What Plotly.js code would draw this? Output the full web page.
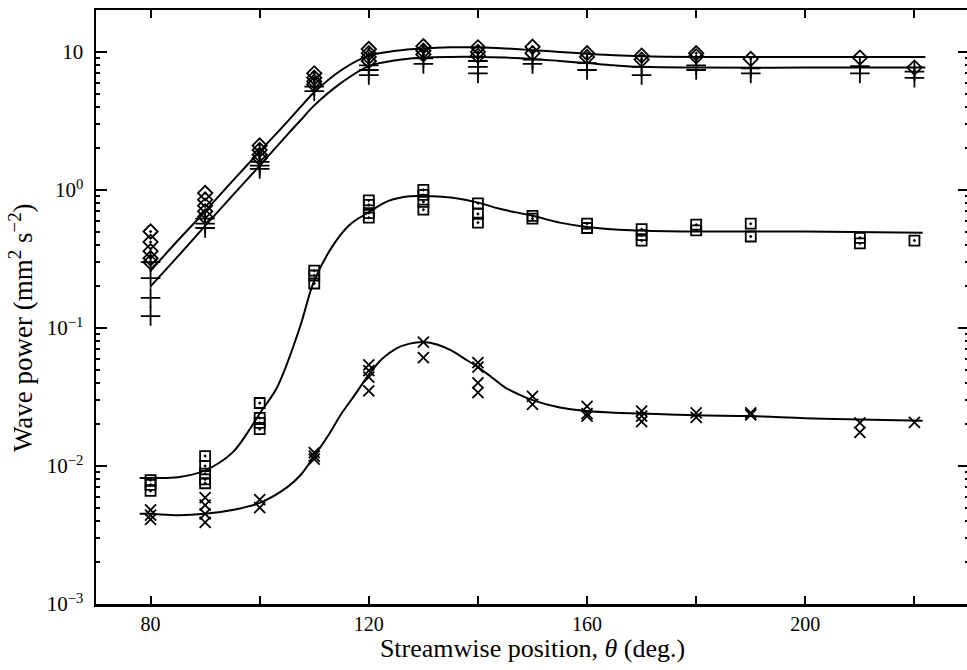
<!DOCTYPE html>
<html><head><meta charset="utf-8">
<script src="https://cdn.plot.ly/plotly-3.0.1.min.js"></script>
<style>html,body{margin:0;padding:0;overflow:hidden;background:#fff}</style>
</head><body><div id="chart" style="width:972px;height:670px"></div>
<script>
// ---- data ----
const diamondTheta = [80,80,80,80,80, 90,90,90,90,90, 100,100,100,100, 110,110,110,110, 120,120,120,120, 130,130,130, 140,140,140, 150,150, 160,160, 170,170, 180,180, 190, 210, 220];
const diamondPower = [0.50,0.42,0.36,0.32,0.30, 0.95,0.85,0.77,0.70,0.64, 2.1,1.95,1.8,1.7, 7.0,6.5,6.1,5.8, 10.5,9.8,9.2,8.6, 11.0,10.2,9.6, 10.8,10.0,9.4, 10.9,9.8, 9.8,9.2, 9.4,8.8, 9.8,9.3, 8.9, 9.1, 7.7];

const plusTheta = [80,80,80,80, 90,90,90, 100,100,100, 110,110, 120,120,120, 130,130, 140,140,140, 150,150, 160,160, 170,170, 180,180, 190,190, 210,210, 220,220];
const plusPower = [0.30,0.23,0.165,0.122, 0.62,0.57,0.53, 1.6,1.5,1.42, 5.6,5.2, 8.0,7.4,6.8, 9.0,8.2, 8.6,7.8,7.0, 8.8,8.2, 8.3,7.4, 7.8,6.8, 8.0,7.4, 7.6,7.0, 7.9,7.0, 7.2,6.5];

const squareTheta = [80,80,80, 90,90,90,90,90, 100,100,100,100, 110,110,110, 120,120,120,120, 130,130,130,130, 140,140,140, 150,150, 160,160, 170,170,170, 180,180, 190,190, 210,210, 220];
const squarePower = [0.0079,0.0073,0.0066, 0.0118,0.0100,0.0088,0.0080,0.0075, 0.0286,0.0223,0.0205,0.0185, 0.26,0.24,0.21, 0.84,0.78,0.68,0.63, 1.0,0.92,0.82,0.72, 0.80,0.67,0.58, 0.65,0.62, 0.57,0.53, 0.52,0.47,0.43, 0.56,0.51, 0.57,0.46, 0.45,0.41, 0.43];

const crossTheta = [80,80,80, 90,90,90,90, 100,100, 110,110,110, 120,120,120,120, 130,130, 140,140,140,140, 150,150, 160,160,160, 170,170,170, 180,180, 190,190, 210,210, 220];
const crossPower = [0.0048,0.0044,0.0041, 0.0059,0.0052,0.0045,0.0039, 0.0057,0.0050, 0.0125,0.0118,0.0112, 0.054,0.049,0.044,0.035, 0.079,0.061, 0.056,0.052,0.040,0.034, 0.032,0.028, 0.027,0.024,0.023, 0.025,0.023,0.021, 0.0243,0.0225, 0.0243,0.0235, 0.0205,0.0175, 0.0207];

// fitted curves
const upperFitTheta = [80,85,90,95,100,105,107.5,110,115,120,125,130,135,140,145,150,155,160,165,170,180,200,222];
const upperFitPower = [0.26,0.43,0.70,1.16,1.9,3.1,4.0,5.1,7.4,9.4,10.2,10.6,10.8,10.8,10.6,10.3,10.0,9.7,9.45,9.3,9.2,9.2,9.2];
const lowerFitTheta = [80,85,90,95,100,105,107.5,110,115,120,125,130,135,140,145,150,155,160,165,170,180,200,222];
const lowerFitPower = [0.20,0.33,0.55,0.91,1.5,2.5,3.2,4.1,6.0,7.9,8.7,9.1,9.2,9.2,9.1,8.9,8.6,8.3,8.0,7.8,7.7,7.7,7.7];
const squareFitTheta = [78,80,85,90,95,98,100,103,105,107.5,110,113.5,116.5,120,123.5,127.5,131.5,136,140,144,150,155,160,168,180,200,221.5];
const squareFitPower = [0.0082,0.0082,0.0083,0.0093,0.0125,0.018,0.024,0.036,0.055,0.105,0.22,0.40,0.56,0.69,0.83,0.90,0.90,0.87,0.81,0.73,0.65,0.58,0.54,0.51,0.50,0.50,0.49];
const crossFitTheta = [78,80,85,90,95,100,105,107.5,110,112.5,115,117.5,120,122.5,125,127.5,130,132.5,135,137.5,140,142.5,145,147.5,150,155,160,165,170,180,190,200,210,221.5];
const crossFitPower = [0.0045,0.0045,0.0044,0.0045,0.0048,0.0054,0.0070,0.0086,0.0118,0.0165,0.024,0.033,0.046,0.060,0.071,0.077,0.079,0.076,0.069,0.060,0.052,0.044,0.037,0.033,0.030,0.0265,0.025,0.0243,0.024,0.0233,0.023,0.0222,0.0217,0.0213];

// axis ticks
const xTickVals = [80,120,160,200];
const xTickText = ['80','120','160','200'];
const xMinorVals = [100,140,180,220];
const yTickVals = [0.001,0.01,0.1,1,10];
const yTickText = ['10<sup>−3</sup>','10<sup>−2</sup>','10<sup>−1</sup>','10<sup>0</sup>','10'];
const minorDigits = [2,3,4,5,6,7,8,9];
const yMinorVals = [];
yTickVals.forEach(d => minorDigits.forEach(k => yMinorVals.push(d*k)));

const ink = '#000';
function pts(x, y, symbol, size) {
  return {x, y, type:'scatter', mode:'markers', hoverinfo:'skip',
    marker:{symbol, size, color:ink, line:{color:ink, width:1.8}}};
}
function fit(x, y) {
  return {x, y, type:'scatter', mode:'lines', hoverinfo:'skip',
    line:{color:ink, width:2, shape:'spline', smoothing:1}};
}
const data = [
  fit(upperFitTheta, upperFitPower),
  fit(lowerFitTheta, lowerFitPower),
  fit(squareFitTheta, squareFitPower),
  fit(crossFitTheta, crossFitPower),
  pts(diamondTheta, diamondPower, 'diamond-open-dot', 11),
  pts(plusTheta, plusPower, 'cross-thin-open', 14),
  pts(squareTheta, squarePower, 'square-open-dot', 10),
  pts(crossTheta, crossPower, 'x-thin-open', 11)
];

const font = '"Liberation Serif", "Times New Roman", Times, serif';
const layout = {
  width: 972, height: 670,
  margin: {l:96, r:3, t:10, b:66},
  paper_bgcolor:'#fff', plot_bgcolor:'#fff',
  showlegend:false,
  font:{family:font, color:ink, size:20},
  xaxis:{
    range:[70,230], tickmode:'array', tickvals:xTickVals, ticktext:xTickText,
    ticks:'inside', ticklen:8, tickwidth:2, tickcolor:ink,
    minor:{tickmode:'array', tickvals:xMinorVals, ticks:'inside', ticklen:8, tickwidth:2, tickcolor:ink, showgrid:false},
    showline:true, linewidth:2.5, linecolor:ink, mirror:'ticks',
    showgrid:false, zeroline:false, automargin:false,
    tickfont:{family:font, size:20, color:ink},
    title:{text:'Streamwise position, <i>θ</i> (deg.)', font:{family:font, size:26, color:ink}, standoff:6}
  },
  yaxis:{
    type:'log', range:[-3,1.304], tickmode:'array', tickvals:yTickVals, ticktext:yTickText,
    ticks:'inside', ticklen:11, tickwidth:2, tickcolor:ink,
    minor:{tickmode:'array', tickvals:yMinorVals, ticks:'inside', ticklen:4, tickwidth:2, tickcolor:ink, showgrid:false},
    showline:true, linewidth:2.5, linecolor:ink, mirror:'ticks',
    showgrid:false, zeroline:false, automargin:false,
    ticklabelstandoff:6,
    tickfont:{family:font, size:21, color:ink}
  },
  annotations:[{
    text:'Wave power (mm<sup>2</sup> s<sup>−2</sup>)', textangle:-90,
    xref:'paper', yref:'paper', x:(21-96)/873, y:(604-328)/594,
    xanchor:'center', yanchor:'middle', showarrow:false,
    font:{family:font, size:27, color:ink}
  }]
};
Plotly.newPlot('chart', data, layout, {staticPlot:true, displayModeBar:false});
</script>
</body></html>
